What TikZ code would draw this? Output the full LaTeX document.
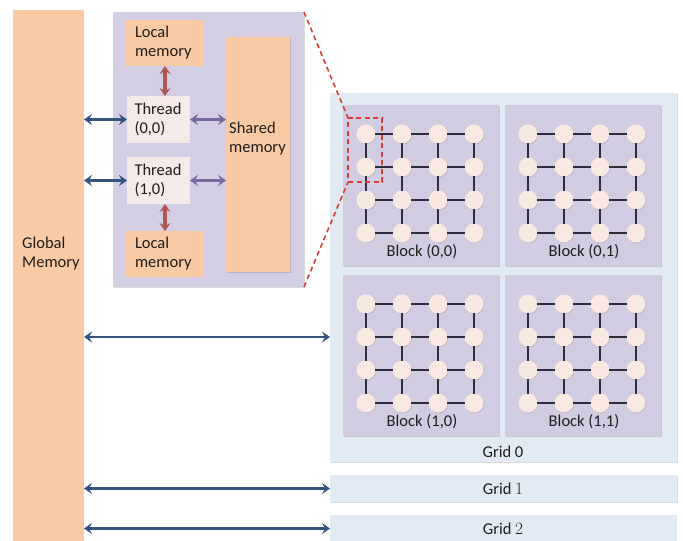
\documentclass[tikz,border=0pt]{standalone}
\usepackage{fontspec}
\setmainfont{Carlito}
\usetikzlibrary{arrows.meta,shadows}
\definecolor{orangem}{RGB}{250,202,164}
\definecolor{lavp}{RGB}{212,206,229}
\definecolor{lavb}{RGB}{210,204,227}
\definecolor{thrd}{RGB}{246,233,233}
\definecolor{gridc}{RGB}{226,234,244}
\definecolor{dotc}{RGB}{250,232,226}
\definecolor{meshc}{RGB}{45,45,62}
\definecolor{bluea}{RGB}{52,85,125}
\definecolor{purpa}{RGB}{118,106,158}
\definecolor{reda}{RGB}{176,86,86}
\definecolor{redd}{RGB}{218,62,52}
\definecolor{txt}{RGB}{30,30,30}
\begin{document}
\begin{tikzpicture}[x=1pt,y=-1pt,
  font=\fontsize{16.5}{19}\selectfont, text=txt,
  box/.style={draw=none, outer sep=0pt, inner sep=0pt, anchor=north west},
  softshadow/.style={drop shadow={shadow xshift=1.2pt,shadow yshift=-1.2pt,opacity=0.25,fill=black!60}},
  txtbox/.style={box, align=left, text width=#1},
  dot/.style={circle, fill=dotc, minimum size=19pt, inner sep=0pt, outer sep=0pt,
    drop shadow={shadow xshift=0.6pt,shadow yshift=-0.8pt,opacity=0.2,fill=black!60}},
  mesh/.style={draw=meshc, line width=1.6pt, shorten <=-0.5pt, shorten >=-0.5pt},
  tip/.style={Stealth[length=8pt,width=11pt,inset=3pt]},
  barrow/.style={draw=bluea, line width=2.8pt, {Stealth[length=8pt,width=11pt,inset=3pt]}-{Stealth[length=8pt,width=11pt,inset=3pt]}},
  parrow/.style={draw=purpa, line width=2.8pt, {Stealth[length=8pt,width=11pt,inset=3pt]}-{Stealth[length=8pt,width=11pt,inset=3pt]}},
  rarrow/.style={draw=reda, line width=3.4pt, {Stealth[length=8pt,width=11pt,inset=3pt]}-{Stealth[length=8pt,width=11pt,inset=3pt]}},
  reddash/.style={draw=redd, line width=1.6pt, dash pattern=on 5pt off 3.5pt}
]
\useasboundingbox (0,0) rectangle (683,541);

% Global memory
\node[box, fill=orangem, minimum width=71pt, minimum height=531pt] (gm) at (13,10) {};
\node[anchor=west, align=left, inner sep=0pt] (gmlbl) at (22,254) {Global\\Memory};

% Block panel
\node[box, fill=lavp, softshadow, minimum width=191pt, minimum height=275pt] (panel) at (113,12) {};
\node[txtbox=60pt, fill=orangem, inner xsep=9pt, minimum width=78pt, minimum height=46pt] (lm0) at (126,20) {Local\\memory};
\node[txtbox=48pt, fill=thrd, inner xsep=7.5pt, minimum width=63pt, minimum height=47pt] (th0) at (127,96) {Thread\\(0,0)};
\node[txtbox=48pt, fill=thrd, inner xsep=7.5pt, minimum width=63pt, minimum height=47pt] (th1) at (127,157) {Thread\\(1,0)};
\node[txtbox=60pt, fill=orangem, inner xsep=9pt, minimum width=78pt, minimum height=46pt] (lm1) at (126,231) {Local\\memory};
\node[box, fill=orangem, softshadow, minimum width=64pt, minimum height=235pt] (sm) at (226,37) {};
\node[anchor=west, align=left, inner sep=0pt] (smlbl) at (229,139) {Shared\\memory};

\draw[rarrow] (lm0.south) -- (th0.north -| lm0.south);
\draw[rarrow] (th1.south -| lm1.north) -- (lm1.north);
\draw[parrow] (th0.east) -- (sm.west |- th0.east);
\draw[parrow] (th1.east) -- (sm.west |- th1.east);
\draw[barrow] (gm.east |- th0.west) -- (th0.west);
\draw[barrow] (gm.east |- th1.west) -- (th1.west);

% Grids
\node[box, fill=gridc, softshadow, minimum width=347pt, minimum height=369pt] (g0) at (330,93) {};
\node[box, fill=gridc, softshadow, minimum width=347pt, minimum height=27pt] (g1) at (330,475) {};
\node[box, fill=gridc, minimum width=347pt, minimum height=27pt] (g2) at (330,515) {};
\node[inner sep=0pt] (g0lbl) at (503,452) {Grid 0};
\node[inner sep=0pt] (g1lbl) at (503,489) {Grid $1$};
\node[inner sep=0pt] (g2lbl) at (503,529) {Grid $2$};

\coordinate (g0in) at (330,337);
\draw[barrow] (gm.east |- g0in) -- (g0in);
\draw[barrow] (gm.east |- g1.west) -- (g1.west);
\draw[barrow] (gm.east |- g2.west) -- (g2.west);

% Blocks
\foreach \b/\bx/\by/\t in {a/343/105/{(0,0)}, b/505/105/{(0,1)}, c/343/275/{(1,0)}, d/505/275/{(1,1)}} {
  \node[box, fill=lavb, softshadow, minimum width=156pt, minimum height=161pt] (blk\b) at (\bx,\by) {};
  \foreach \i in {0,...,3} {
    \foreach \j in {0,...,3} {
      \node[dot] (\b-\i-\j) at ({\bx+23+36*\i},{\by+29+33*\j}) {};
    }
  }
  \foreach \i/\ni in {0/1,1/2,2/3} {
    \foreach \j in {0,...,3} {
      \draw[mesh] (\b-\i-\j) -- (\b-\ni-\j);
      \draw[mesh] (\b-\j-\i) -- (\b-\j-\ni);
    }
  }
  \node[inner sep=0pt] (lbl\b) at ({\bx+79},{\by+147}) {Block \t};
}

% zoom indicator
\node[box, reddash, minimum width=34pt, minimum height=64pt] (zb) at (348,118) {};
\draw[reddash] (panel.north east) -- (zb.north west);
\draw[reddash] (panel.south east) -- (zb.south west);
\end{tikzpicture}
\end{document}
